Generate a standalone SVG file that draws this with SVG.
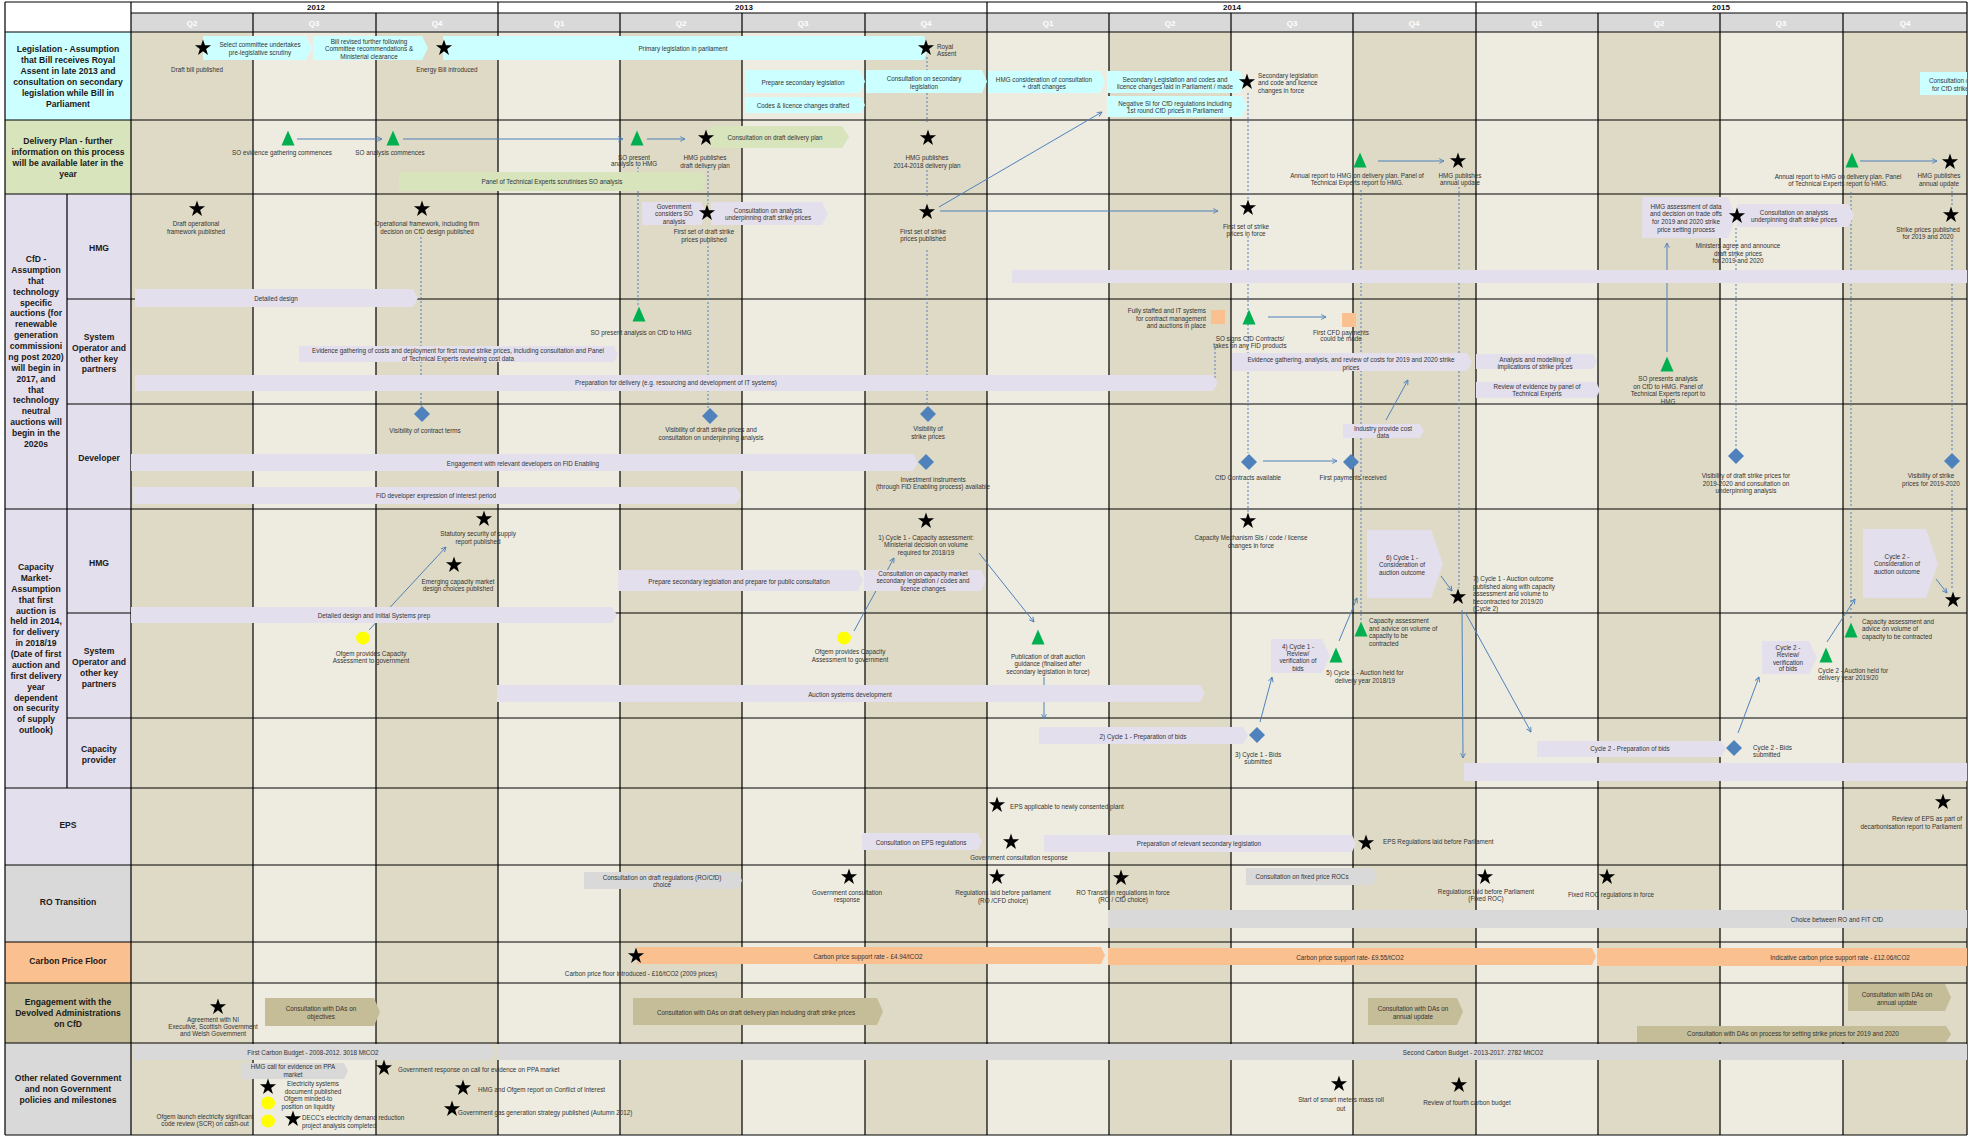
<svg xmlns="http://www.w3.org/2000/svg" xmlns:xlink="http://www.w3.org/1999/xlink" width="1974" height="1136" viewBox="0 0 1974 1136">
<style>
.t{font-family:"Liberation Sans",Arial,sans-serif;font-size:6.3px;fill:#333;text-anchor:middle;dominant-baseline:central}
.tl{text-anchor:start}
.tr{text-anchor:end}
.L{font-family:"Liberation Sans",Arial,sans-serif;font-size:8.6px;font-weight:bold;fill:#1a1a1a;text-anchor:middle;dominant-baseline:central}
.yr{font-family:"Liberation Sans",Arial,sans-serif;font-size:8px;font-weight:bold;fill:#111;text-anchor:middle;dominant-baseline:central}
.q{font-family:"Liberation Sans",Arial,sans-serif;font-size:8px;font-weight:bold;fill:#fff;text-anchor:middle;dominant-baseline:central}
.dk{fill:#dedac5}
.cy{fill:#ccffff}.lv{fill:#e4dfec}.gr{fill:#d7e4bc}.gy{fill:#d9d9d9}.or{fill:#fac090}.tn{fill:#c4bd97}
.g{stroke:#000;stroke-width:1.2;fill:none}
.ar{stroke:#4f81bd;stroke-width:1;fill:none;marker-end:url(#ah)}
.dt{stroke:#4f81bd;stroke-width:1;stroke-dasharray:2 2;fill:none}
</style>
<defs>
<marker id="ah" viewBox="0 0 10 10" refX="9" refY="5" markerWidth="6" markerHeight="6" orient="auto"><path d="M1 1L9 5L1 9" fill="none" stroke="#4f81bd" stroke-width="1.5"/></marker>
<path id="st" d="M0 -8.5L1.94 -2.67L8.08 -2.63L3.14 1.02L5 6.88L0 3.3L-5 6.88L-3.14 1.02L-8.08 -2.63L-1.94 -2.67Z" fill="#000"/>
<path id="tri" d="M0 -7.5L6.5 7.5L-6.5 7.5Z" fill="#00b050"/>
<path id="dm" d="M0 -8L8 0L0 8L-8 0Z" fill="#4f81bd"/>
<ellipse id="yc" rx="7" ry="6.5" fill="#ffff00"/>
<rect id="sq" x="-7" y="-7" width="14" height="14" fill="#fac090"/>
<clipPath id="clipR"><rect x="0" y="0" width="1967" height="1136"/></clipPath>
</defs>
<rect x="0" y="0" width="1974" height="1136" fill="#fff"/>

<g id="background">
<rect x="131" y="32" width="1836" height="1103" fill="#eeece0"/>
<rect class="dk" x="131" y="32" width="122" height="1103"/>
<rect class="dk" x="376" y="32" width="122" height="1103"/>
<rect class="dk" x="620" y="32" width="122" height="1103"/>
<rect class="dk" x="865" y="32" width="122" height="1103"/>
<rect class="dk" x="1109" y="32" width="122" height="1103"/>
<rect class="dk" x="1353" y="32" width="123" height="1103"/>
<rect class="dk" x="1598" y="32" width="122" height="1103"/>
<rect class="dk" x="1843" y="32" width="124" height="1103"/>
<rect x="131" y="13" width="1836" height="19" fill="#d9d9d9"/>
<rect class="cy" x="5" y="32" width="126" height="88"/>
<rect class="gr" x="5" y="120" width="126" height="74"/>
<rect class="lv" x="5" y="194" width="126" height="671"/>
<rect class="gy" x="5" y="865" width="126" height="77"/>
<rect class="or" x="5" y="942" width="126" height="41"/>
<rect class="tn" x="5" y="983" width="126" height="60"/>
<rect class="gy" x="5" y="1043" width="126" height="92"/>
</g>

<g id="header">
<text class="yr" x="316" y="7.5">2012</text>
<text class="yr" x="744" y="7.5">2013</text>
<text class="yr" x="1232" y="7.5">2014</text>
<text class="yr" x="1721" y="7.5">2015</text>
<text class="q" x="192" y="23">Q2</text>
<text class="q" x="314" y="23">Q3</text>
<text class="q" x="437" y="23">Q4</text>
<text class="q" x="559" y="23">Q1</text>
<text class="q" x="681" y="23">Q2</text>
<text class="q" x="803" y="23">Q3</text>
<text class="q" x="926" y="23">Q4</text>
<text class="q" x="1048" y="23">Q1</text>
<text class="q" x="1170" y="23">Q2</text>
<text class="q" x="1292" y="23">Q3</text>
<text class="q" x="1414" y="23">Q4</text>
<text class="q" x="1537" y="23">Q1</text>
<text class="q" x="1659" y="23">Q2</text>
<text class="q" x="1781" y="23">Q3</text>
<text class="q" x="1905" y="23">Q4</text>
</g>

<g id="grid">
<path class="g" d="M5 2H1967M131 13H1967M5 32H1967M5 120H1967M5 194H1967M67 299H1967M67 404H1967M5 509H1967M67 613H1967M67 718H1967M5 788H1967M5 865H1967M5 942H1967M5 983H1967M5 1043H1967M5 1135H1967"/>
<path class="g" d="M5 2V1135M131 2V1135M67 194V788M498 2V1135M987 2V1135M1476 2V1135M1967 2V1135M253 13V1135M376 13V1135M620 13V1135M742 13V1135M865 13V1135M1109 13V1135M1231 13V1135M1353 13V1135M1598 13V1135M1720 13V1135M1843 13V1135"/>
</g>

<g id="row-labels">
<text class="L"><tspan x="68" y="49">Legislation - Assumption</tspan><tspan x="68" y="60">that Bill receives Royal</tspan><tspan x="68" y="71">Assent in late 2013 and</tspan><tspan x="68" y="82">consultation on secondary</tspan><tspan x="68" y="93">legislation while Bill in</tspan><tspan x="68" y="104">Parliament</tspan></text>
<text class="L"><tspan x="68" y="141">Delivery Plan - further</tspan><tspan x="68" y="152">information on this process</tspan><tspan x="68" y="163">will be available later in the</tspan><tspan x="68" y="174">year</tspan></text>
<text class="L"><tspan x="36" y="259">CfD -</tspan><tspan x="36" y="270">Assumption</tspan><tspan x="36" y="281">that</tspan><tspan x="36" y="292">technology</tspan><tspan x="36" y="303">specific</tspan><tspan x="36" y="313">auctions (for</tspan><tspan x="36" y="324">renewable</tspan><tspan x="36" y="335">generation</tspan><tspan x="36" y="346">commissioni</tspan><tspan x="36" y="357">ng post 2020)</tspan><tspan x="36" y="368">will begin in</tspan><tspan x="36" y="379">2017, and</tspan><tspan x="36" y="390">that</tspan><tspan x="36" y="400">technology</tspan><tspan x="36" y="411">neutral</tspan><tspan x="36" y="422">auctions will</tspan><tspan x="36" y="433">begin in the</tspan><tspan x="36" y="444">2020s</tspan></text>
<text class="L" x="99" y="248">HMG</text>
<text class="L"><tspan x="99" y="337">System</tspan><tspan x="99" y="348">Operator and</tspan><tspan x="99" y="359">other key</tspan><tspan x="99" y="369">partners</tspan></text>
<text class="L" x="99" y="458">Developer</text>
<text class="L"><tspan x="36" y="567">Capacity</tspan><tspan x="36" y="578">Market-</tspan><tspan x="36" y="589">Assumption</tspan><tspan x="36" y="600">that first</tspan><tspan x="36" y="611">auction is</tspan><tspan x="36" y="621">held in 2014,</tspan><tspan x="36" y="632">for delivery</tspan><tspan x="36" y="643">in 2018/19</tspan><tspan x="36" y="654">(Date of first</tspan><tspan x="36" y="665">auction and</tspan><tspan x="36" y="676">first delivery</tspan><tspan x="36" y="687">year</tspan><tspan x="36" y="698">dependent</tspan><tspan x="36" y="708">on security</tspan><tspan x="36" y="719">of supply</tspan><tspan x="36" y="730">outlook)</tspan></text>
<text class="L" x="99" y="563">HMG</text>
<text class="L"><tspan x="99" y="651">System</tspan><tspan x="99" y="662">Operator and</tspan><tspan x="99" y="673">other key</tspan><tspan x="99" y="684">partners</tspan></text>
<text class="L"><tspan x="99" y="749">Capacity</tspan><tspan x="99" y="760">provider</tspan></text>
<text class="L" x="68" y="825">EPS</text>
<text class="L" x="68" y="902">RO Transition</text>
<text class="L" x="68" y="961">Carbon Price Floor</text>
<text class="L"><tspan x="68" y="1002">Engagement with the</tspan><tspan x="68" y="1013">Devolved Administrations</tspan><tspan x="68" y="1024">on CfD</tspan></text>
<text class="L"><tspan x="68" y="1078">Other related Government</tspan><tspan x="68" y="1089">and non Government</tspan><tspan x="68" y="1100">policies and milestones</tspan></text>
</g>

<g id="connectors">
<path class="dt" d="M927 57V70M927 93V122M927 170V197M927 250V406"/>
<path class="dt" d="M421 237V406"/>
<path class="dt" d="M638 167V305"/>
<path class="dt" d="M708 167V204M708 242V408"/>
<path class="dt" d="M1248 93V200M1248 236V453M1248 482V512"/>
<path class="dt" d="M1215 348V378"/>
<path class="dt" d="M1361 190V620"/>
<path class="dt" d="M1459 187V588"/>
<path class="dt" d="M1736 228V448"/>
<path class="dt" d="M1851 192V620"/>
<path class="dt" d="M1952 187V205M1952 240V452M1952 490V590"/>
<path class="ar" d="M297 139H382"/>
<path class="ar" d="M403 139H623"/>
<path class="ar" d="M647 139H685"/>
<path class="ar" d="M939 207L1102 112"/>
<path class="ar" d="M940 211H1218"/>
<path class="ar" d="M1378 161H1444"/>
<path class="ar" d="M1860 161H1937"/>
<path class="ar" d="M1667 352V243"/>
<path class="ar" d="M1268 317H1326"/>
<path class="ar" d="M1263 461H1337"/>
<path class="ar" d="M1386 420L1408 380"/>
<path class="ar" d="M369 630L446 547"/>
<path class="ar" d="M854 631L894 558"/>
<path class="ar" d="M979 553L1034 622"/>
<path class="ar" d="M1044 677V719"/>
<path class="ar" d="M1260 722L1272 677"/>
<path class="ar" d="M1339 641L1357 598"/>
<path class="ar" d="M1441 576L1452 591"/>
<path class="ar" d="M1462 610L1463 758"/>
<path class="ar" d="M1465 612L1531 732"/>
<path class="ar" d="M1738 733L1759 677"/>
<path class="ar" d="M1827 642L1855 599"/>
<path class="ar" d="M1936 579L1947 593"/>
</g>

<g id="bars">
<g id="b-select"><path class="cy" d="M203 36H306L312 48L306 60H203Z"/><text class="t"><tspan x="260" y="44">Select committee undertakes</tspan><tspan x="260" y="52">pre-legislative scrutiny</tspan></text></g>
<g id="b-billrevised"><path class="cy" d="M313 36H422L428 48L422 60H313Z"/><text class="t"><tspan x="369" y="41">Bill revised further following</tspan><tspan x="369" y="48">Committee recommendations &amp;</tspan><tspan x="369" y="56">Ministerial clearance</tspan></text></g>
<g id="b-primary"><path class="cy" d="M443 36H924L928 48L924 60H443Z"/><text class="t" x="683" y="48">Primary legislation in parliament</text></g>
<g id="b-prepsec"><path class="cy" d="M745 70H860L865 81.5L860 93H745Z"/><text class="t" x="803" y="82">Prepare secondary legislation</text></g>
<g id="b-codes"><path class="cy" d="M745 97H861L865 105L861 113H745Z"/><text class="t" x="803" y="105">Codes &amp; licence changes drafted</text></g>
<g id="b-consultsec"><path class="cy" d="M866 70H982L987 81.5L982 93H866Z"/><text class="t"><tspan x="924" y="78">Consultation on secondary</tspan><tspan x="924" y="86">legislation</tspan></text></g>
<g id="b-hmgconsid"><path class="cy" d="M988 71H1100L1105 82L1100 93H988Z"/><text class="t"><tspan x="1044" y="79">HMG consideration of consultation</tspan><tspan x="1044" y="86">+ draft changes</tspan></text></g>
<g id="b-seclaid"><path class="cy" d="M1107 71H1240L1245 82L1240 93H1107Z"/><text class="t"><tspan x="1175" y="79">Secondary Legislation and codes and</tspan><tspan x="1175" y="86">licence changes laid in Parliament / made</tspan></text></g>
<g id="b-negsi"><path class="cy" d="M1107 96H1242L1247 106.5L1242 117H1107Z"/><text class="t"><tspan x="1175" y="103">Negative SI for CfD regulations including</tspan><tspan x="1175" y="110">1st round CfD prices in Parliament</tspan></text></g>
<g id="b-consultcfd" clip-path="url(#clipR)"><path class="cy" d="M1920 72H1967V95H1920Z"/><text class="t tl"><tspan x="1929" y="80">Consultation on</tspan><tspan x="1932" y="88">for CfD strike</tspan></text></g>
<g id="b-consultdp"><path class="gr" d="M710 126H842L849 137L842 148H710Z"/><text class="t" x="775" y="137">Consultation on draft delivery plan</text></g>
<g id="b-panel"><path class="gr" d="M399 172H702L707 181.5L702 191H399Z"/><text class="t" x="552" y="181">Panel of Technical Experts scrutinises SO analysis</text></g>
<g id="b-detdesign"><path class="lv" d="M135 289H413L418 298L413 307H135Z"/><text class="t" x="276" y="298">Detailed design</text></g>
<g id="b-govconsid"><path class="lv" d="M642 202H701L707 213.5L701 225H642Z"/><text class="t"><tspan x="674" y="206">Government</tspan><tspan x="674" y="213">considers SO</tspan><tspan x="674" y="221">analysis</tspan></text></g>
<g id="b-consultan1"><path class="lv" d="M711 202H822L828 213.5L822 225H711Z"/><text class="t"><tspan x="768" y="210">Consultation on analysis</tspan><tspan x="768" y="217">underpinning draft strike prices</tspan></text></g>
<g id="b-cfdhmg"><path class="lv" d="M1012 270H1967V283H1012Z"/></g>
<g id="b-hmgassess"><path class="lv" d="M1642 197H1728L1736 217.5L1728 238H1642Z"/><text class="t"><tspan x="1686" y="206">HMG assessment of data</tspan><tspan x="1686" y="213">and decision on trade offs</tspan><tspan x="1686" y="221">for 2019 and 2020 strike</tspan><tspan x="1686" y="229">price setting process</tspan></text></g>
<g id="b-consultan2"><path class="lv" d="M1737 204H1848L1854 215.5L1848 227H1737Z"/><text class="t"><tspan x="1794" y="212">Consultation on analysis</tspan><tspan x="1794" y="219">underpinning draft strike prices</tspan></text></g>
<g id="b-evid1"><path class="lv" d="M299 346H614L618 354L614 362H299Z"/><text class="t"><tspan x="458" y="350">Evidence gathering of costs and deployment for first round strike prices, including consultation and Panel</tspan><tspan x="458" y="358">of Technical Experts reviewing  cost data</tspan></text></g>
<g id="b-prepdel"><path class="lv" d="M135 375H1213L1218 383L1213 391H135Z"/><text class="t" x="676" y="382">Preparation for delivery (e.g. resourcing and development of IT systems)</text></g>
<g id="b-evid2"><path class="lv" d="M1232 353H1467L1472 362L1467 371H1232Z"/><text class="t"><tspan x="1351" y="359">Evidence gathering, analysis, and review of costs for 2019 and 2020 strike</tspan><tspan x="1351" y="367">prices</tspan></text></g>
<g id="b-analysis"><path class="lv" d="M1476 354H1593L1597 361.5L1593 369H1476Z"/><text class="t"><tspan x="1535" y="359">Analysis and modelling of</tspan><tspan x="1535" y="366">implications of strike prices</tspan></text></g>
<g id="b-review"><path class="lv" d="M1476 382H1596L1600 390L1596 398H1476Z"/><text class="t"><tspan x="1537" y="386">Review of evidence by panel of</tspan><tspan x="1537" y="393">Technical Experts</tspan></text></g>
<g id="b-engage"><path class="lv" d="M131 454H913L918 462.5L913 471H131Z"/><text class="t" x="523" y="463">Engagement with relevant developers on FID Enabling</text></g>
<g id="b-fid"><path class="lv" d="M133 487H736L741 495.5L736 504H133Z"/><text class="t" x="436" y="495">FiD developer expression of interest period</text></g>
<g id="b-industry"><path class="lv" d="M1343 424H1420L1424 431L1420 438H1343Z"/><text class="t"><tspan x="1383" y="428">Industry provide cost</tspan><tspan x="1383" y="435">data</tspan></text></g>
<g id="b-cmdesign"><path class="lv" d="M131 607H612L617 615L612 623H131Z"/><text class="t" x="374" y="615">Detailed design and Initial Systems prep</text></g>
<g id="b-cmprep"><path class="lv" d="M618 570H858L863 580.5L858 591H618Z"/><text class="t" x="739" y="581">Prepare secondary legislation and prepare for public consultation</text></g>
<g id="b-cmconsult"><path class="lv" d="M864 570H981L986 580.5L981 591H864Z"/><text class="t"><tspan x="923" y="573">Consultation on capacity market</tspan><tspan x="923" y="580">secondary legislation / codes and</tspan><tspan x="923" y="588">licence changes</tspan></text></g>
<g id="b-cycle1cons"><path class="lv" d="M1367 530H1431L1443 564L1431 598H1367Z"/><text class="t"><tspan x="1402" y="557">6) Cycle 1 -</tspan><tspan x="1402" y="564">Consideration of</tspan><tspan x="1402" y="572">auction outcome</tspan></text></g>
<g id="b-cycle2cons"><path class="lv" d="M1863 529H1926L1938 563.5L1926 598H1863Z"/><text class="t"><tspan x="1897" y="556">Cycle 2 -</tspan><tspan x="1897" y="563">Consideration of</tspan><tspan x="1897" y="571">auction outcome</tspan></text></g>
<g id="b-auctionsys"><path class="lv" d="M497 685H1200L1205 693.5L1200 702H497Z"/><text class="t" x="850" y="694">Auction systems development</text></g>
<g id="b-c1review"><path class="lv" d="M1271 639H1322L1330 656L1322 673H1271Z"/><text class="t"><tspan x="1298" y="646">4) Cycle 1 -</tspan><tspan x="1298" y="653">Review/</tspan><tspan x="1298" y="660">verification of</tspan><tspan x="1298" y="668">bids</tspan></text></g>
<g id="b-c2review"><path class="lv" d="M1762 641H1809L1817 657.5L1809 674H1762Z"/><text class="t"><tspan x="1788" y="647">Cycle 2 -</tspan><tspan x="1788" y="654">Review/</tspan><tspan x="1788" y="662">verification</tspan><tspan x="1788" y="668">of bids</tspan></text></g>
<g id="b-c1prep"><path class="lv" d="M1039 727H1243L1248 735.5L1243 744H1039Z"/><text class="t" x="1143" y="736">2) Cycle 1 - Preparation of bids</text></g>
<g id="b-c2prep"><path class="lv" d="M1537 741H1721L1726 749L1721 757H1537Z"/><text class="t" x="1630" y="748">Cycle 2 - Preparation of bids</text></g>
<g id="b-cpbar"><path class="lv" d="M1464 763H1967V781H1464Z"/></g>
<g id="b-epsconsult"><path class="lv" d="M862 833H978L982 841.5L978 850H862Z"/><text class="t" x="921" y="842">Consultation on EPS regulations</text></g>
<g id="b-epsprep"><path class="lv" d="M1044 835H1352L1356 843.5L1352 852H1044Z"/><text class="t" x="1199" y="843">Preparation of relevant secondary legislation</text></g>
<g id="b-roconsult"><path class="gy" d="M584 872H738L742 880.5L738 889H584Z"/><text class="t"><tspan x="662" y="877">Consultation on draft regulations (RO/CfD)</tspan><tspan x="662" y="884">choice</tspan></text></g>
<g id="b-fixedroc"><path class="gy" d="M1246 868H1373L1377 876.5L1373 885H1246Z"/><text class="t" x="1302" y="876">Consultation on fixed price ROCs</text></g>
<g id="b-choice"><path class="gy" d="M1108 910H1967V928H1108Z"/><text class="t" x="1837" y="919">Choice between RO and FIT CfD</text></g>
<g id="b-cps1"><path class="or" d="M637 947H1101L1105 955.5L1101 964H637Z"/><text class="t" x="868" y="956">Carbon price support rate - £4.94/tCO2</text></g>
<g id="b-cps2"><path class="or" d="M1108 948H1592L1596 956.5L1592 965H1108Z"/><text class="t" x="1350" y="957">Carbon price  support rate-  £9.55/tCO2</text></g>
<g id="b-cps3"><path class="or" d="M1597 948H1967V966H1597Z"/><text class="t" x="1840" y="957">Indicative carbon price support rate - £12.06/tCO2</text></g>
<g id="b-da1"><path class="tn" d="M265 998H374L380 1012L374 1026H265Z"/><text class="t"><tspan x="321" y="1008">Consultation with DAs on</tspan><tspan x="321" y="1016">objectives</tspan></text></g>
<g id="b-da2"><path class="tn" d="M633 998H877L883 1011.5L877 1025H633Z"/><text class="t" x="756" y="1012">Consultation with DAs on draft delivery plan including draft strike prices</text></g>
<g id="b-da3"><path class="tn" d="M1368 998H1457L1463 1011.5L1457 1025H1368Z"/><text class="t"><tspan x="1413" y="1008">Consultation with DAs on</tspan><tspan x="1413" y="1016">annual update</tspan></text></g>
<g id="b-da4"><path class="tn" d="M1848 984H1945L1951 997.5L1945 1011H1848Z"/><text class="t"><tspan x="1897" y="994">Consultation with DAs on</tspan><tspan x="1897" y="1002">annual update</tspan></text></g>
<g id="b-da5"><path class="tn" d="M1637 1026H1946L1951 1034L1946 1042H1637Z"/><text class="t" x="1793" y="1033">Consultation with DAs on  process for setting  strike prices for 2019 and 2020</text></g>
<g id="b-cb1"><path class="gy" d="M133 1044H491L495 1052L491 1060H133Z"/><text class="t" x="313" y="1052">First Carbon Budget - 2008-2012. 3018 MtCO2</text></g>
<g id="b-cb2"><path class="gy" d="M497 1044H1967V1060H497Z"/><text class="t" x="1473" y="1052">Second Carbon Budget - 2013-2017.  2782  MtCO2</text></g>
<g id="b-ppa"><path class="gy" d="M241 1063H344L348 1071L344 1079H241Z"/><text class="t"><tspan x="293" y="1066">HMG call for evidence on PPA</tspan><tspan x="293" y="1074">market</tspan></text></g>
</g>

<g id="milestones">
<g id="m-draftbill"><use href="#st" x="203" y="48"/><text class="t" x="197" y="69">Draft bill published</text></g>
<g id="m-energybill"><use href="#st" x="444" y="48"/><text class="t" x="447" y="69">Energy Bill introduced</text></g>
<g id="m-royal"><use href="#st" x="926" y="48"/><text class="t tl"><tspan x="937" y="46">Royal</tspan><tspan x="937" y="53">Assent</tspan></text></g>
<g id="m-hmgdraftdp"><use href="#st" x="706" y="138"/><text class="t"><tspan x="705" y="157">HMG publishes</tspan><tspan x="705" y="165">draft delivery plan</tspan></text></g>
<g id="m-hmgdp"><use href="#st" x="928" y="138"/><text class="t"><tspan x="927" y="157">HMG publishes</tspan><tspan x="927" y="165">2014-2018 delivery plan</tspan></text></g>
<g id="m-secinforce"><use href="#st" x="1247" y="82"/><text class="t tl"><tspan x="1258" y="75">Secondary legislation</tspan><tspan x="1258" y="82">and code and licence</tspan><tspan x="1258" y="90">changes in force</tspan></text></g>
<g id="m-draftop"><use href="#st" x="197" y="209"/><text class="t"><tspan x="196" y="223">Draft operational</tspan><tspan x="196" y="231">framework published</tspan></text></g>
<g id="m-opframe"><use href="#st" x="422" y="209"/><text class="t"><tspan x="427" y="223">Operational framework, including firm</tspan><tspan x="427" y="231">decision on CfD design published</tspan></text></g>
<g id="m-draftstrike"><use href="#st" x="707" y="213"/><text class="t"><tspan x="704" y="231">First set of draft strike</tspan><tspan x="704" y="239">prices published</tspan></text></g>
<g id="m-strikepub"><use href="#st" x="927" y="212"/><text class="t"><tspan x="923" y="231">First set of strike</tspan><tspan x="923" y="238">prices published</tspan></text></g>
<g id="m-strikeforce"><use href="#st" x="1248" y="208"/><text class="t"><tspan x="1246" y="226">First set of strike</tspan><tspan x="1246" y="233">prices in force</tspan></text></g>
<g id="m-annual14"><use href="#st" x="1458" y="161"/><text class="t"><tspan x="1460" y="175">HMG publishes</tspan><tspan x="1460" y="182">annual update</tspan></text></g>
<g id="m-annual15"><use href="#st" x="1950" y="162"/><text class="t"><tspan x="1939" y="175">HMG publishes</tspan><tspan x="1939" y="183">annual update</tspan></text></g>
<g id="m-ministers"><use href="#st" x="1737" y="216"/><text class="t"><tspan x="1738" y="245">Ministers agree and announce</tspan><tspan x="1738" y="253">draft strike prices</tspan><tspan x="1738" y="260">for 2019 and 2020</tspan></text></g>
<g id="m-strike1920"><use href="#st" x="1951" y="215"/><text class="t"><tspan x="1928" y="229">Strike prices published</tspan><tspan x="1928" y="236">for 2019 and 2020</tspan></text></g>
<g id="m-statutory"><use href="#st" x="484" y="519"/><text class="t"><tspan x="478" y="533">Statutory security of supply</tspan><tspan x="478" y="541">report published</tspan></text></g>
<g id="m-emerging"><use href="#st" x="454" y="565"/><text class="t"><tspan x="458" y="581">Emerging capacity market</tspan><tspan x="458" y="588">design choices published</tspan></text></g>
<g id="m-cycle1"><use href="#st" x="926" y="521"/><text class="t"><tspan x="926" y="537">1) Cycle 1 - Capacity assessment:</tspan><tspan x="926" y="544">Ministerial decision on volume</tspan><tspan x="926" y="552">required for 2018/19</tspan></text></g>
<g id="m-capmech"><use href="#st" x="1248" y="521"/><text class="t"><tspan x="1251" y="537">Capacity Mechanism SIs / code / license</tspan><tspan x="1251" y="545">changes in force</tspan></text></g>
<g id="m-c1outcome"><use href="#st" x="1458" y="597"/><text class="t tl"><tspan x="1473" y="578">7) Cycle 1 - Auction outcome</tspan><tspan x="1473" y="586">published along with capacity</tspan><tspan x="1473" y="593">assessment and volume to</tspan><tspan x="1473" y="601">becontracted for 2019/20</tspan><tspan x="1473" y="608">(Cycle 2)</tspan></text></g>
<g id="m-c2outcome"><use href="#st" x="1953" y="600"/></g>
<g id="m-epsnew"><use href="#st" x="997" y="805"/><text class="t tl" x="1010" y="806">EPS applicable to newly consented plant</text></g>
<g id="m-epsresp"><use href="#st" x="1011" y="842"/><text class="t" x="1019" y="857">Government consultation response</text></g>
<g id="m-epsregs"><use href="#st" x="1366" y="843"/><text class="t tl" x="1383" y="841">EPS Regulations laid before Parliament</text></g>
<g id="m-epsreview"><use href="#st" x="1943" y="802"/><text class="t tr"><tspan x="1962" y="818">Review of EPS as part of</tspan><tspan x="1962" y="826">decarbonisation report to Parliament</tspan></text></g>
<g id="m-roresp"><use href="#st" x="849" y="877"/><text class="t"><tspan x="847" y="892">Government consultation</tspan><tspan x="847" y="899">response</tspan></text></g>
<g id="m-rolaid"><use href="#st" x="997" y="877"/><text class="t"><tspan x="1003" y="892">Regulations laid before parliament</tspan><tspan x="1003" y="900">(RO /CFD choice)</tspan></text></g>
<g id="m-roforce"><use href="#st" x="1121" y="878"/><text class="t"><tspan x="1123" y="892">RO Transition regulations in force</tspan><tspan x="1123" y="899">(RO / CfD choice)</tspan></text></g>
<g id="m-froclaid"><use href="#st" x="1485" y="877"/><text class="t"><tspan x="1486" y="891">Regulations laid before Parliament</tspan><tspan x="1486" y="898">(Fixed ROC)</tspan></text></g>
<g id="m-frocforce"><use href="#st" x="1607" y="877"/><text class="t" x="1611" y="894">Fixed ROC regulations in force</text></g>
<g id="m-cpf"><use href="#st" x="636" y="956"/><text class="t" x="641" y="973">Carbon price floor introduced - £16/tCO2 (2009 prices)</text></g>
<g id="m-agreement"><use href="#st" x="218" y="1007"/><text class="t"><tspan x="213" y="1019">Agreement with  NI</tspan><tspan x="213" y="1026">Executive, Scottish Government</tspan><tspan x="213" y="1033">and Welsh Government</tspan></text></g>
<g id="m-pparesp"><use href="#st" x="384" y="1068"/><text class="t tl" x="398" y="1069">Government response on call for evidence on PPA market</text></g>
<g id="m-elecsys"><use href="#st" x="268" y="1087"/><text class="t"><tspan x="313" y="1083">Electricity systems</tspan><tspan x="313" y="1091">document published</tspan></text></g>
<g id="m-decc"><use href="#st" x="293" y="1119"/><text class="t tl"><tspan x="302" y="1117">DECC's electricity demand reduction</tspan><tspan x="302" y="1125">project analysis completed</tspan></text></g>
<g id="m-conflict"><use href="#st" x="463" y="1088"/><text class="t tl" x="478" y="1089">HMG and Ofgem report on Conflict of Interest</text></g>
<g id="m-gas"><use href="#st" x="452" y="1109"/><text class="t tl" x="458" y="1112">Government gas generation strategy published (Autumn 2012)</text></g>
<g id="m-smart"><use href="#st" x="1339" y="1084"/><text class="t"><tspan x="1341" y="1099">Start of smart meters mass roll</tspan><tspan x="1341" y="1108">out</tspan></text></g>
<g id="m-fourth"><use href="#st" x="1459" y="1085"/><text class="t" x="1467" y="1102">Review of fourth carbon budget</text></g>

<g id="t-soevid"><use href="#tri" x="288" y="138"/><text class="t" x="282" y="152">SO evidence gathering commences</text></g>
<g id="t-soanal"><use href="#tri" x="393" y="138"/><text class="t" x="390" y="152">SO analysis commences</text></g>
<g id="t-sopresent"><use href="#tri" x="637" y="138"/><text class="t"><tspan x="634" y="157">SO present</tspan><tspan x="634" y="163">analysis to HMG</tspan></text></g>
<g id="t-annual14"><use href="#tri" x="1360" y="160"/><text class="t"><tspan x="1357" y="175">Annual report to HMG on delivery plan.  Panel of</tspan><tspan x="1357" y="182">Technical Experts report to HMG.</tspan></text></g>
<g id="t-annual15"><use href="#tri" x="1852" y="160"/><text class="t"><tspan x="1838" y="176">Annual report to HMG on delivery plan.  Panel</tspan><tspan x="1838" y="183">of Technical Experts report to HMG.</tspan></text></g>
<g id="t-socfd"><use href="#tri" x="639" y="314"/><text class="t" x="641" y="332">SO present analysis on CfD to HMG</text></g>
<g id="t-sosigns"><use href="#tri" x="1249" y="317"/><text class="t"><tspan x="1250" y="338">SO signs CfD Contracts/</tspan><tspan x="1250" y="345">takes on any FID products</tspan></text></g>
<g id="t-sopresents15"><use href="#tri" x="1667" y="364"/><text class="t"><tspan x="1668" y="378">SO presents analysis</tspan><tspan x="1668" y="386">on CfD to HMG.  Panel of</tspan><tspan x="1668" y="393">Technical Experts report to</tspan><tspan x="1668" y="401">HMG</tspan></text></g>
<g id="t-guidance"><use href="#tri" x="1038" y="637"/><text class="t"><tspan x="1048" y="656">Publication of draft  auction</tspan><tspan x="1048" y="663">guidance (finalised after</tspan><tspan x="1048" y="671">secondary legislation in force)</tspan></text></g>
<g id="t-c1auction"><use href="#tri" x="1336" y="655"/><text class="t"><tspan x="1365" y="672">5) Cycle 1 - Auction held for</tspan><tspan x="1365" y="680">delivery year 2018/19</tspan></text></g>
<g id="t-capassess1"><use href="#tri" x="1361" y="629"/><text class="t tl"><tspan x="1369" y="620">Capacity assessment</tspan><tspan x="1369" y="628">and advice on volume of</tspan><tspan x="1369" y="635">capacity to be</tspan><tspan x="1369" y="643">contracted</tspan></text></g>
<g id="t-c2auction"><use href="#tri" x="1826" y="655"/><text class="t tl"><tspan x="1818" y="670">Cycle 2 - Auction held for</tspan><tspan x="1818" y="677">delivery year 2019/20</tspan></text></g>
<g id="t-capassess2"><use href="#tri" x="1851" y="630"/><text class="t tl"><tspan x="1862" y="621">Capacity assessment and</tspan><tspan x="1862" y="628">advice on volume of</tspan><tspan x="1862" y="636">capacity to be contracted</tspan></text></g>

<g id="d-contract"><use href="#dm" x="422" y="414"/><text class="t" x="425" y="430">Visibility of contract terms</text></g>
<g id="d-draftstrike"><use href="#dm" x="710" y="416"/><text class="t"><tspan x="711" y="429">Visibility of draft strike prices and</tspan><tspan x="711" y="437">consultation on underpinning analysis</tspan></text></g>
<g id="d-strike"><use href="#dm" x="928" y="414"/><text class="t"><tspan x="928" y="428">Visibility of</tspan><tspan x="928" y="436">strike prices</tspan></text></g>
<g id="d-invest"><use href="#dm" x="926" y="462"/><text class="t"><tspan x="933" y="479">Investment instruments</tspan><tspan x="933" y="486">(through FID Enabling process) available</tspan></text></g>
<g id="d-cfdavail"><use href="#dm" x="1249" y="462"/><text class="t" x="1248" y="477">CfD Contracts available</text></g>
<g id="d-firstpay"><use href="#dm" x="1351" y="462"/><text class="t" x="1353" y="477">First payments received</text></g>
<g id="d-draft1920"><use href="#dm" x="1736" y="456"/><text class="t"><tspan x="1746" y="475">Visibility of draft strike prices for</tspan><tspan x="1746" y="483">2019-2020 and consultation on</tspan><tspan x="1746" y="490">underpinning analysis</tspan></text></g>
<g id="d-strike1920"><use href="#dm" x="1952" y="461"/><text class="t"><tspan x="1931" y="475">Visibility of strike</tspan><tspan x="1931" y="483">prices for 2019-2020</tspan></text></g>
<g id="d-c1bids"><use href="#dm" x="1257" y="735"/><text class="t"><tspan x="1258" y="754">3) Cycle 1 - Bids</tspan><tspan x="1258" y="761">submitted</tspan></text></g>
<g id="d-c2bids"><use href="#dm" x="1734" y="748"/><text class="t tl"><tspan x="1753" y="747">Cycle 2 - Bids</tspan><tspan x="1753" y="754">submitted</tspan></text></g>

<g id="y-ofgem1"><use href="#yc" x="363" y="638"/><text class="t"><tspan x="371" y="653">Ofgem provides Capacity</tspan><tspan x="371" y="660">Assessment to government</tspan></text></g>
<g id="y-ofgem2"><use href="#yc" x="844" y="638"/><text class="t"><tspan x="850" y="651">Ofgem provides Capacity</tspan><tspan x="850" y="659">Assessment to government</tspan></text></g>
<g id="y-liquidity"><use href="#yc" x="268" y="1103"/><text class="t"><tspan x="308" y="1098">Ofgem minded-to</tspan><tspan x="308" y="1106">position on liquidity</tspan></text></g>
<g id="y-scr"><use href="#yc" x="268" y="1121"/><text class="t"><tspan x="205" y="1116">Ofgem launch electricity significant</tspan><tspan x="205" y="1123">code review (SCR) on cash-out</tspan></text></g>

<g id="o-staffed"><use href="#sq" x="1218" y="317"/><text class="t tr"><tspan x="1206" y="310">Fully staffed and IT systems</tspan><tspan x="1206" y="318">for contract management</tspan><tspan x="1206" y="325">and auctions in place</tspan></text></g>
<g id="o-payments"><use href="#sq" x="1349" y="320"/><text class="t"><tspan x="1341" y="332">First CFD payments</tspan><tspan x="1341" y="338">could be made</tspan></text></g>
</g>
</svg>
